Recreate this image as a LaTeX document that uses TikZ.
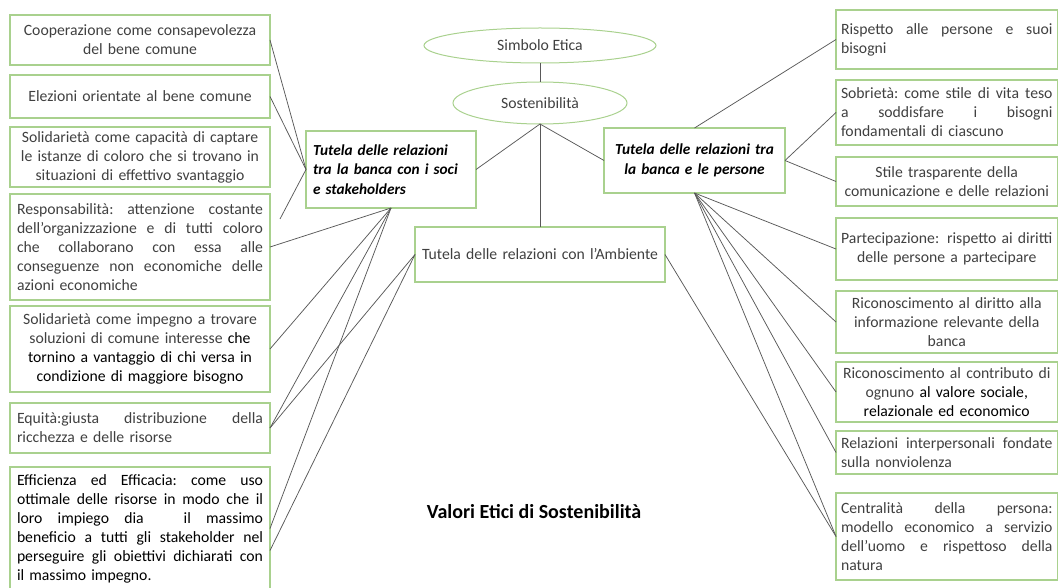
\documentclass[tikz,border=0pt]{standalone}
\usepackage{fontspec}
\setmainfont{Carlito}
\usetikzlibrary{shapes.geometric}
\definecolor{boxgreen}{HTML}{A9D18E}
\definecolor{linkgray}{HTML}{595959}
\definecolor{txtgray}{HTML}{404040}
% one justified line of a box (every line but the last): spaces stretch evenly
\newcommand\jl[1]{\makebox[\hsize][s]{\spaceskip=\fontdimen2\font plus 1fil minus .1em\relax
  \xspaceskip=\spaceskip #1}\\}

\begin{document}
\begin{tikzpicture}[x=1pt,y=-1pt,
  every node/.style={outer sep=0pt, font=\fontsize{15.7}{19}\selectfont, text=txtgray},
  valbox/.style={draw=boxgreen, line width=1.3pt, inner xsep=7pt, inner ysep=2pt},
  leftbox/.style={valbox, text width=246pt},
  rightbox/.style={valbox, inner xsep=5pt, text width=211.5pt},
  hubbox/.style={valbox},
  oval/.style={ellipse, draw=boxgreen, line width=1pt, inner sep=0pt},
  link/.style={draw=linkgray, line width=0.75pt}
]
\useasboundingbox (0,0) rectangle (1059,588);

% ---- centre column
\node[oval, minimum width=232pt, minimum height=35pt] (simb) at (540,45.5) {Simbolo Etica};
\node[oval, minimum width=174pt, minimum height=42pt] (sost) at (540,103) {Sostenibilità};
\node[hubbox, text width=156pt, minimum height=77pt, align=left, text=black,
      font=\fontsize{15.3}{19.5}\selectfont\bfseries\itshape] (soci) at (391,169.5)
  {Tutela delle relazioni\\tra la banca con i soci\\e stakeholders};
\node[hubbox, text width=167pt, minimum height=65pt, align=center, text=black,
      font=\fontsize{15.3}{19.5}\selectfont\bfseries\itshape] (pers) at (694.5,160.5)
  {Tutela delle relazioni tra\\la banca e le persone};
\node[hubbox, text width=236pt, minimum height=55pt, align=center] (amb) at (540,254.5)
  {Tutela delle relazioni con l'Ambiente};
\node[font=\fontsize{20}{24}\selectfont\bfseries, text=black] (title) at (534,512)
  {Valori Etici di Sostenibilità};

% ---- left column
\node[leftbox, minimum height=50pt, align=center] (l1) at (140,40)
  {Cooperazione come consapevolezza\\del bene comune};
\node[leftbox, minimum height=43pt, align=center] (l2) at (140,96.5)
  {Elezioni orientate al bene comune};
\node[leftbox, minimum height=60pt, align=center] (l3) at (140,157)
  {Solidarietà come capacità di captare\\le istanze di coloro che si trovano in\\situazioni di effettivo svantaggio};
\node[leftbox, minimum height=106pt, align=left] (l4) at (140,247)
  {\jl{Responsabilità: attenzione costante}\jl{dell'organizzazione e di tutti coloro}\jl{che collaborano con essa alle}\jl{conseguenze non economiche delle}azioni economiche};
\node[leftbox, minimum height=86pt, align=center] (l5) at (140,349)
  {Solidarietà come impegno a trovare\\soluzioni di comune interesse \textcolor{black}{che}\\\textcolor{black}{tornino a vantaggio di chi versa in}\\\textcolor{black}{condizione di maggiore bisogno}};
\node[leftbox, minimum height=50pt, align=left] (l6) at (140,428)
  {\jl{Equità:giusta distribuzione della}ricchezza e delle risorse};
\node[leftbox, minimum height=123pt, align=left, text=black] (l7) at (140,528.5)
  {\jl{Efficienza ed Efficacia: come uso}\jl{ottimale delle risorse in modo che il}\jl{loro impiego dia \hspace{.6em} il massimo}\jl{beneficio a tutti gli stakeholder nel}\jl{perseguire gli obiettivi dichiarati con}il massimo impegno.};
\coordinate (socitail) at (280,219);

% ---- right column
\node[rightbox, minimum height=59pt, align=left] (r1) at (946.75,39.5)
  {\jl{Rispetto alle persone e suoi}bisogni};
\node[rightbox, minimum height=65pt, align=left] (r2) at (946.75,112.5)
  {\jl{Sobrietà: come stile di vita teso}\jl{a soddisfare i bisogni}fondamentali di ciascuno};
\node[rightbox, minimum height=49pt, align=center] (r3) at (946.75,181.5)
  {Stile trasparente della\\comunicazione e delle relazioni};
\node[rightbox, minimum height=62pt, align=center] (r4) at (946.75,249)
  {Partecipazione: rispetto ai diritti\\delle persone a partecipare};
\node[rightbox, minimum height=62pt, align=center] (r5) at (946.75,322)
  {Riconoscimento al diritto alla\\informazione relevante della\\banca};
\node[rightbox, minimum height=60pt, align=center] (r6) at (946.75,392)
  {Riconoscimento al contributo di\\ognuno \textcolor{black}{al valore sociale,}\\\textcolor{black}{relazionale ed economico}};
\node[rightbox, minimum height=43pt, align=left] (r7) at (946.75,452.5)
  {\jl{Relazioni interpersonali fondate}sulla nonviolenza};
\node[rightbox, minimum height=87pt, align=left] (r8) at (946.75,536.5)
  {\jl{Centralità della persona:}\jl{modello economico a servizio}\jl{dell'uomo e rispettoso della}natura};

% ---- connectors
\draw[link] (simb.south) -- (sost.north);
\draw[link] (sost.south) -- (soci.east);
\draw[link] (sost.south) -- (pers.west);
\draw[link] (sost.south) -- (amb.north);

\draw[link] (soci.west) -- (l1.east);
\draw[link] (soci.west) -- (l2.east);
\draw[link] (soci.west) -- (socitail);
\draw[link] (soci.south) -- (l4.east);
\draw[link] (soci.south) -- (l5.east);
\draw[link] (soci.south) -- (l6.east);
\draw[link] (soci.south) -- (l7.east);
\draw[link] (amb.west) -- (l6.east);
\draw[link] (amb.west) -- ([yshift=-22pt]l7.east);

\draw[link] (pers.north) -- (r1.west);
\draw[link] (pers.east) -- (r2.west);
\draw[link] (pers.east) -- (r3.west);
\draw[link] (pers.south) -- (r4.west);
\draw[link] (pers.south) -- (r5.west);
\draw[link] (pers.south) -- (r6.west);
\draw[link] (pers.south) -- (r7.west);
\draw[link] (pers.south) -- (r8.west);
\draw[link] (amb.east) -- (r8.west);
\end{tikzpicture}
\end{document}
